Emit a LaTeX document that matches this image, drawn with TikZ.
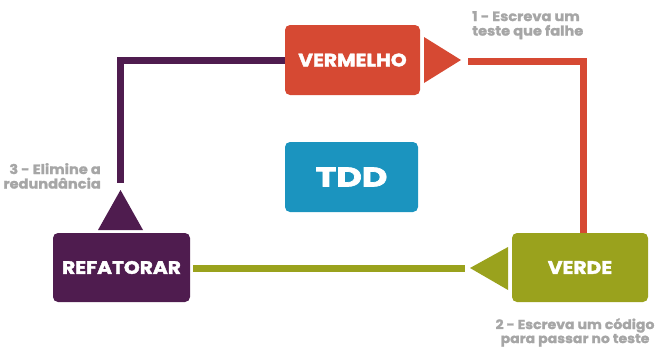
\documentclass[tikz,border=0pt]{standalone}
\usepackage{fontspec}
\setmainfont{Poppins}
\newfontfamily\heavy{Poppins}[BoldFeatures={FakeBold=2.2, FakeStretch=1.12}]
\newfontfamily\wideheavy{Poppins}[BoldFeatures={FakeBold=2.6, FakeStretch=1.3}]
\newfontfamily\notefont{Poppins}[BoldFeatures={FakeBold=1.6, FakeStretch=1.08}]
\definecolor{tddred}{HTML}{D64933}
\definecolor{tddpurple}{HTML}{4F1C4F}
\definecolor{tddgreen}{HTML}{9AA21D}
\definecolor{tddblue}{HTML}{1B94BF}
\definecolor{tddgray}{HTML}{A6A6A6}
\begin{document}
\begin{tikzpicture}[x=1pt,y=-1pt,
  stagebox/.style={rounded corners=5pt, inner sep=0pt, text=white,
    font=\heavy\bfseries\fontsize{18}{18}\selectfont},
  note/.style={text=tddgray, inner sep=0pt, font=\notefont\bfseries\fontsize{13.5}{14.5}\selectfont},
  conn/.style={line width=7pt},
]
\useasboundingbox (0,0) rectangle (658,348);
\node[stagebox, fill=tddred, minimum width=135pt, minimum height=70pt] (verm) at (352.5,60) {VERMELHO};
\node[stagebox, fill=tddblue, minimum width=133pt, minimum height=70pt,
  font=\wideheavy\bfseries\fontsize{27}{27}\selectfont] (tdd) at (351.5,177) {TDD};
\node[stagebox, fill=tddpurple, minimum width=137pt, minimum height=69pt] (refat) at (121.5,267.5) {REFATORAR};
\node[stagebox, fill=tddgreen, minimum width=136pt, minimum height=69pt] (verde) at (580,267.5) {VERDE};

\node[note, anchor=north west, align=left] (n1) at (472,11) {1 - Escreva um\\teste que falhe};
\node[note, anchor=north east, align=right] (n3) at (101,163) {3 - Elimine a\\redundância};
\node[note, anchor=north, align=center, font=\notefont\bfseries\fontsize{13}{14}\selectfont] (n2) at (575,318) {2 - Escreva um código\\para passar no teste};

% arrow heads
\coordinate (t1) at (461,60);
\coordinate (t2) at (120.5,190);
\coordinate (t3) at (470,268);
\fill[tddred] (424,37) -- (t1) -- (424,83) -- cycle;
\fill[tddpurple] (98,230) -- (t2) -- (143,230) -- cycle;
\fill[tddgreen] (508,247) -- (t3) -- (508,290) -- cycle;

% connectors
\coordinate (r0) at (468,61);
\coordinate (p1) at (120.5,183);
\coordinate (g1) at (465,268);
\draw[conn, tddred] (r0) -| ([xshift=3pt]verde.north);
\draw[conn, tddpurple] (verm.west |- 0,60) -| (p1);
\draw[conn, tddgreen] ([xshift=3pt]refat.east |- g1) -- (g1);
\end{tikzpicture}
\end{document}
